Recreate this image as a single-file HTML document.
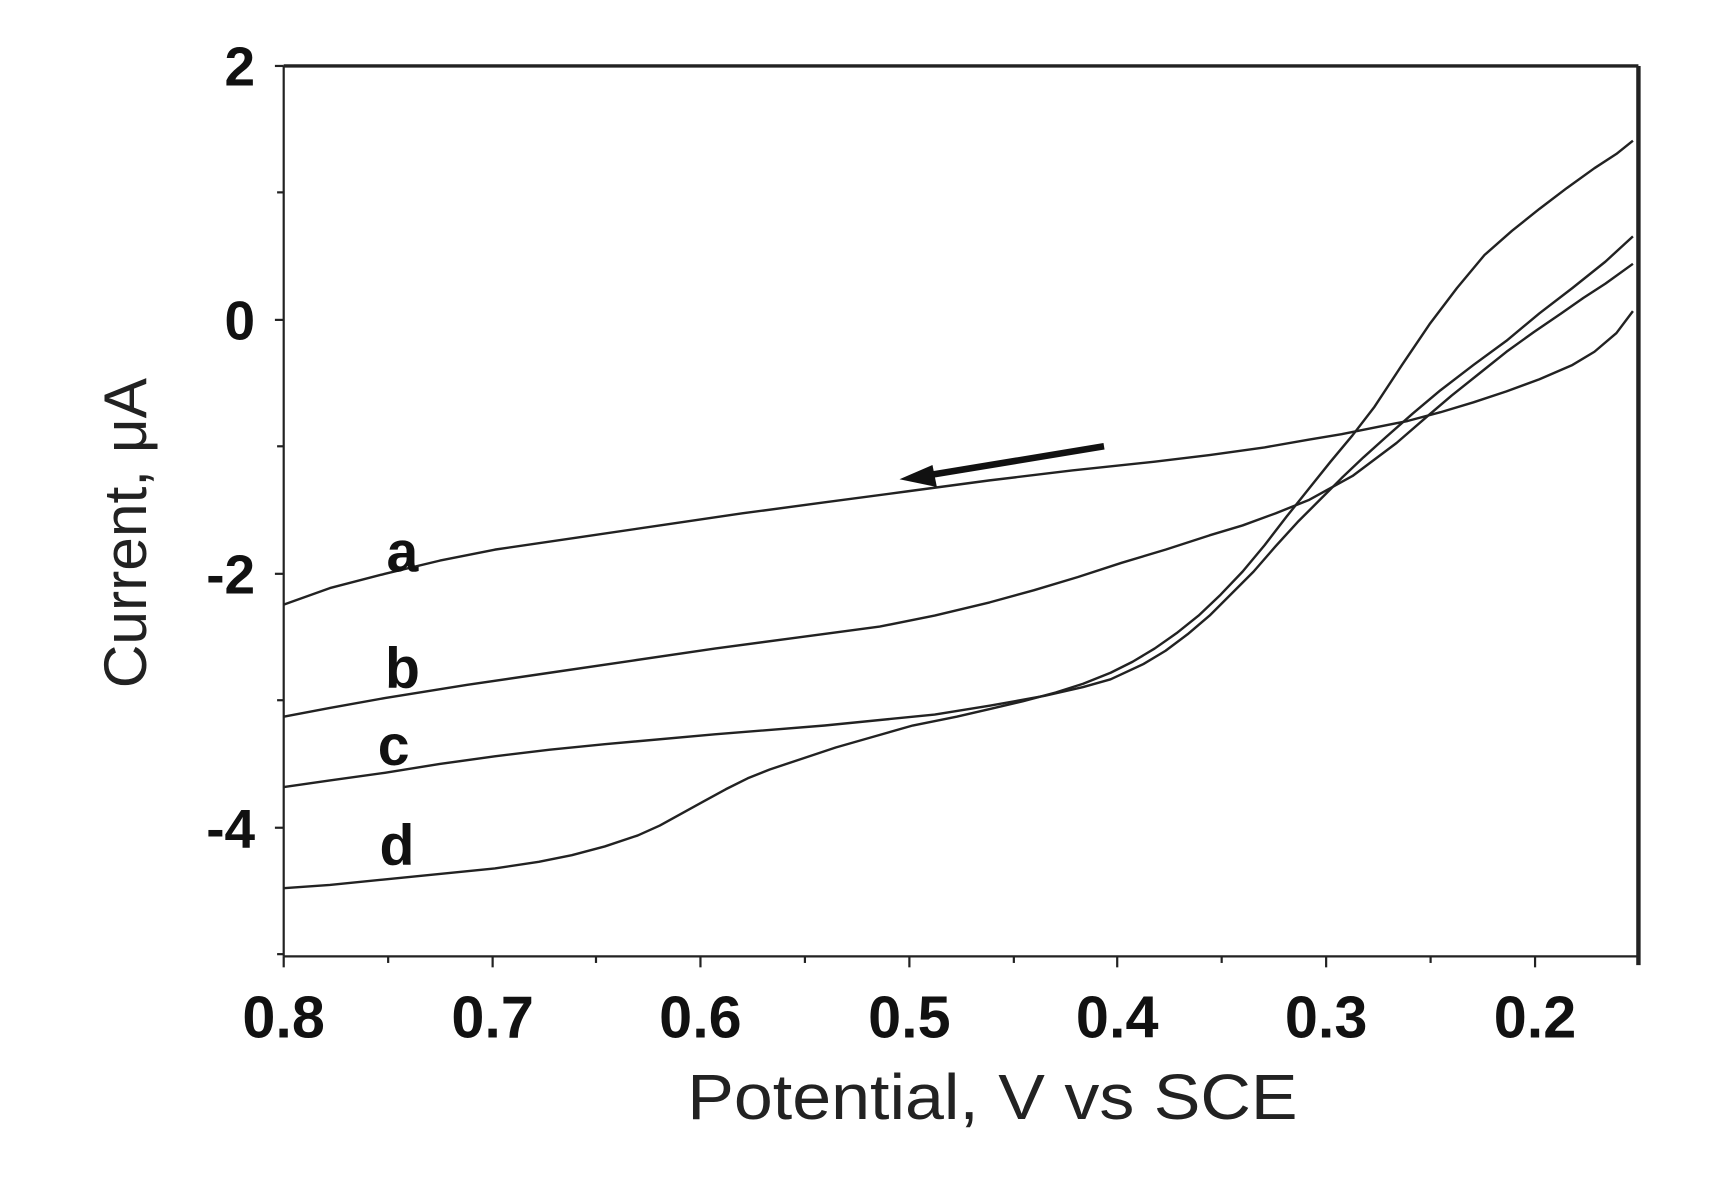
<!DOCTYPE html>
<html><head><style>html,body{margin:0;padding:0;background:#fff;width:1722px;height:1185px;overflow:hidden}</style></head>
<body>
<svg width="1722" height="1185" viewBox="0 0 1566 1078" preserveAspectRatio="none" xmlns="http://www.w3.org/2000/svg" font-family="Liberation Sans, sans-serif">
<rect width="1566" height="1078" fill="#fff"/>
<g stroke="#222" fill="none">
<line x1="258" y1="60" x2="1490" y2="60" stroke-width="3"/>
<line x1="258" y1="60" x2="258" y2="870" stroke-width="2"/>
<line x1="258" y1="870" x2="1490" y2="870" stroke-width="2"/>
<line x1="1490" y1="60" x2="1490" y2="878" stroke-width="4"/>
<g stroke-width="2">
<line x1="250" y1="60" x2="258" y2="60"/><line x1="252" y1="175" x2="258" y2="175"/>
<line x1="250" y1="291" x2="258" y2="291"/><line x1="252" y1="406" x2="258" y2="406"/>
<line x1="250" y1="522" x2="258" y2="522"/><line x1="252" y1="637" x2="258" y2="637"/>
<line x1="250" y1="753" x2="258" y2="753"/><line x1="252" y1="868" x2="258" y2="868"/>
<line x1="258" y1="870" x2="258" y2="880"/><line x1="353" y1="870" x2="353" y2="876"/>
<line x1="448" y1="870" x2="448" y2="880"/><line x1="542" y1="870" x2="542" y2="876"/>
<line x1="637" y1="870" x2="637" y2="880"/><line x1="732" y1="870" x2="732" y2="876"/>
<line x1="827" y1="870" x2="827" y2="880"/><line x1="922" y1="870" x2="922" y2="876"/>
<line x1="1016" y1="870" x2="1016" y2="880"/><line x1="1111" y1="870" x2="1111" y2="876"/>
<line x1="1206" y1="870" x2="1206" y2="880"/><line x1="1301" y1="870" x2="1301" y2="876"/>
<line x1="1396" y1="870" x2="1396" y2="880"/>
</g>
<g stroke-width="2.2" stroke-linejoin="round">
<polyline points="258,550 300,535 350,522 400,510 450,500 525,489 600,478 675,467 750,457 825,447 900,437 975,428 1050,420 1100,414 1150,407 1190,400 1220,395 1250,389 1280,383 1310,375 1340,366 1370,356 1400,345 1430,332 1450,320 1470,303 1485,283"/>
<polyline points="258,652 300,644 350,635 425,623 500,612 575,601 650,590 725,580 800,570 850,560 900,548 940,537 980,525 1020,512 1060,500 1100,487 1130,478 1160,467 1190,455 1230,433 1270,403 1300,377 1320,360 1345,340 1370,320 1395,302 1420,285 1440,271 1460,258 1485,240"/>
<polyline points="258,716 300,710 350,703 400,695 450,688 500,682 550,677 650,668 750,660 850,650 900,642 950,633 985,625 1010,618 1040,604 1060,592 1080,577 1100,560 1120,540 1140,520 1160,497 1180,475 1200,455 1220,435 1240,416 1260,398 1285,376 1310,355 1340,332 1370,310 1400,285 1430,262 1460,238 1485,215"/>
<polyline points="258,808 300,805 350,800 400,795 450,790 490,784 520,778 550,770 580,760 600,751 620,740 640,729 660,718 680,708 700,700 730,690 760,680 795,670 830,660 870,652 900,645 930,638 960,630 985,622 1010,612 1030,602 1050,590 1070,576 1090,560 1110,541 1130,520 1150,496 1170,470 1190,445 1210,420 1230,396 1250,370 1275,332 1300,295 1325,262 1350,232 1375,210 1400,190 1425,171 1450,153 1470,140 1485,128"/>
</g>
<line x1="1004" y1="406" x2="840" y2="433" stroke="#111" stroke-width="6"/>
</g>
<polygon points="818,436 848,423 852,443" fill="#111"/>
<g font-weight="bold" font-size="50" fill="#111" text-anchor="end">
<text x="232" y="78">2</text><text x="232" y="309">0</text>
<text x="232" y="540">-2</text><text x="232" y="771">-4</text>
</g>
<g font-weight="bold" font-size="54" fill="#111" text-anchor="middle">
<text x="258" y="944">0.8</text><text x="448" y="944">0.7</text><text x="637" y="944">0.6</text>
<text x="827" y="944">0.5</text><text x="1016" y="944">0.4</text><text x="1206" y="944">0.3</text><text x="1396" y="944">0.2</text>
</g>
<g font-weight="bold" font-size="52" fill="#111" text-anchor="middle">
<text x="366" y="520">a</text><text x="366" y="626">b</text><text x="358" y="696">c</text><text x="361" y="787">d</text>
</g>
<text x="625" y="1018" font-size="58" textLength="555" lengthAdjust="spacingAndGlyphs" fill="#222">Potential, V vs SCE</text>
<text transform="translate(133,485) rotate(-90)" font-size="55" text-anchor="middle" fill="#222">Current, μA</text>
</svg>
</body></html>
